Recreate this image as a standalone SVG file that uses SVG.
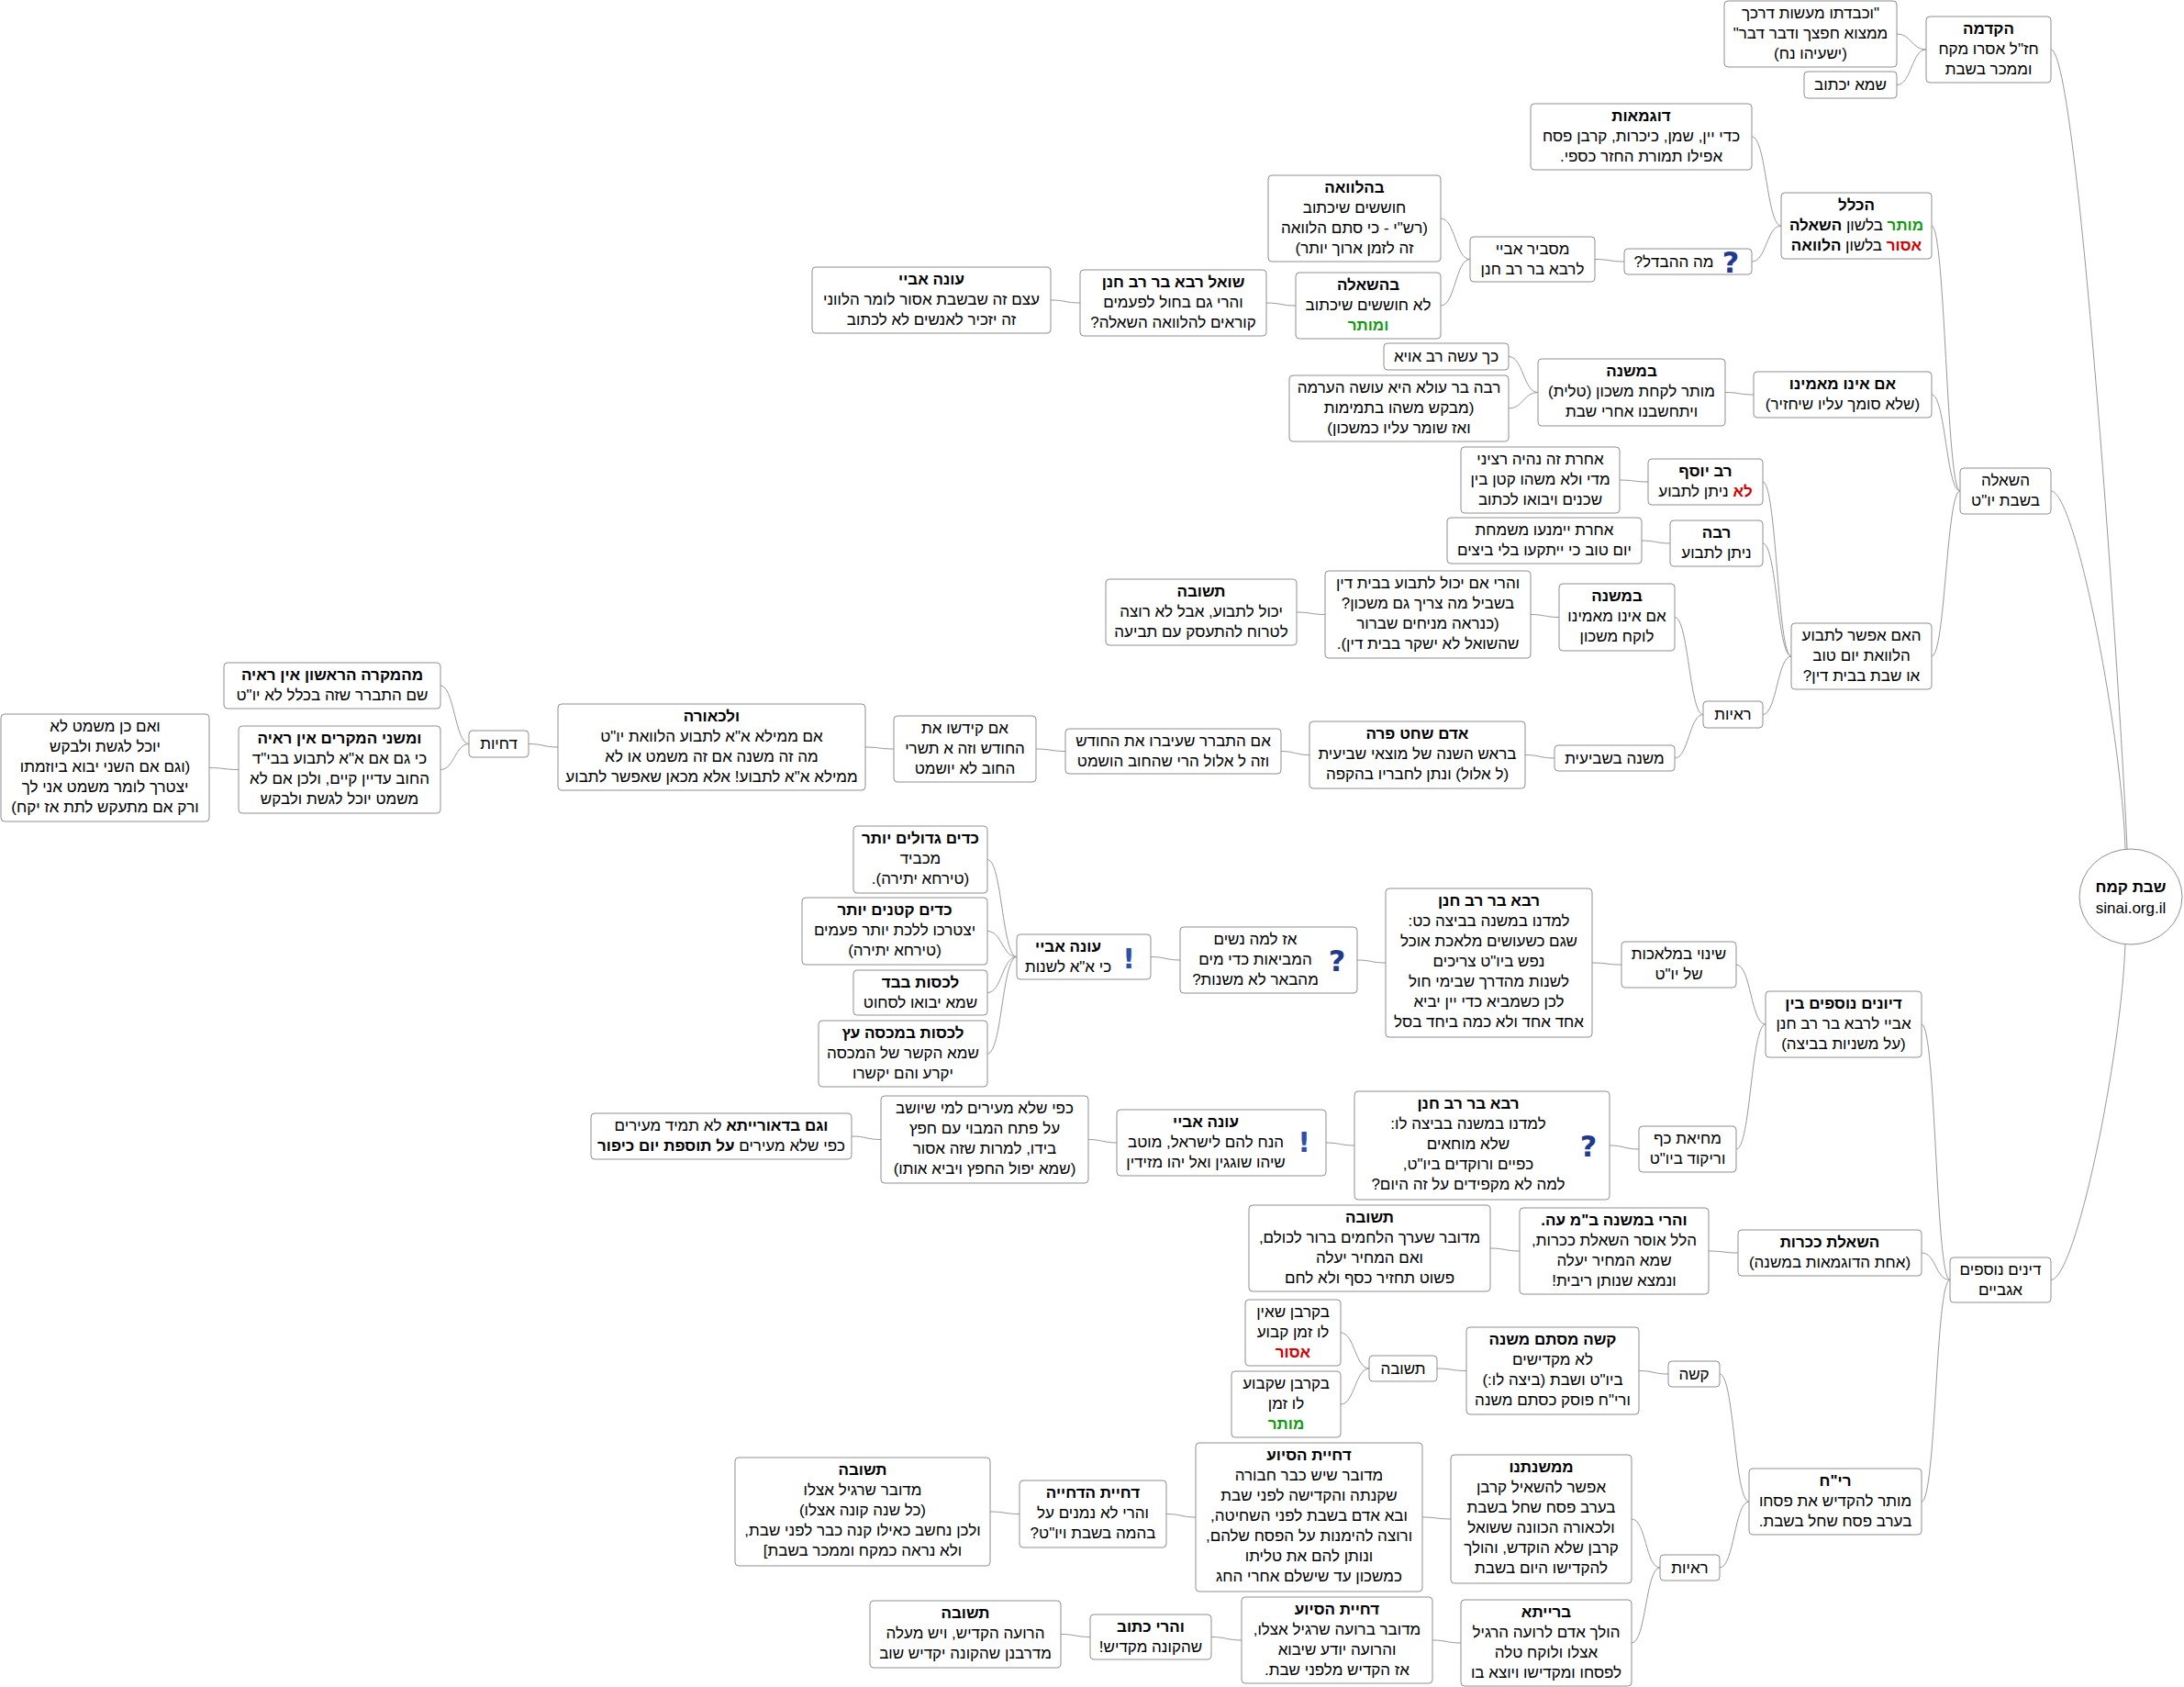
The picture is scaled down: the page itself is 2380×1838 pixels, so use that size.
<svg xmlns="http://www.w3.org/2000/svg" width="2380" height="1838" viewBox="0 0 2380 1838">
<style>
.n rect{fill:#fff;stroke:#8f8f8f;stroke-width:1}
.n ellipse{fill:#fff;stroke:#8f8f8f;stroke-width:1}
text{font-family:"Liberation Sans",Arial,sans-serif;font-size:17px;fill:#000;direction:rtl;text-anchor:middle}
.b{font-weight:bold}
.r{fill:#d40000;font-weight:bold}
.g{fill:#139a13;font-weight:bold}
.q{font-family:"DejaVu Sans",sans-serif;font-size:32px;font-weight:bold;fill:#23398a}
.e{font-family:"DejaVu Sans",sans-serif;font-size:30px;font-weight:bold;fill:#2d4fa8}
#connectors path{fill:none;stroke:#999;stroke-width:1}
</style>
<g id="connectors">
<path d="M2235,54 C2265,54 2312,780 2318,925"/>
<path d="M2235,535 C2262,535 2312,800 2316,925"/>
<path d="M2235,1394.5 C2262,1394.5 2312,1150 2316,1027"/>
<path d="M2067,37 C2083,37 2083,54 2099,54"/>
<path d="M2067,92.5 C2083,92.5 2083,54 2099,54"/>
<path d="M2105,246 C2120,246 2121,535 2136,535"/>
<path d="M2105,430 C2120,430 2121,535 2136,535"/>
<path d="M2105,715 C2120,715 2121,535 2136,535"/>
<path d="M1909,149 C1925,149 1925,246 1941,246"/>
<path d="M1909,285 C1925,285 1925,246 1941,246"/>
<path d="M1738,282.5 C1754,282.5 1754,285 1770,285"/>
<path d="M1570,238 C1586,238 1586,282.5 1602,282.5"/>
<path d="M1570,333 C1586,333 1586,282.5 1602,282.5"/>
<path d="M1380,330 C1396,330 1396,333 1412,333"/>
<path d="M1145,327 C1161,327 1161,330 1177,330"/>
<path d="M1880,427.5 C1895,427.5 1896,430 1911,430"/>
<path d="M1644,388.5 C1660,388.5 1660,427.5 1676,427.5"/>
<path d="M1644,445 C1660,445 1660,427.5 1676,427.5"/>
<path d="M1921,525 C1936,525 1937,715 1952,715"/>
<path d="M1921,592 C1936,592 1937,715 1952,715"/>
<path d="M1921,778.5 C1936,778.5 1937,715 1952,715"/>
<path d="M1765,523 C1780,523 1781,525 1796,525"/>
<path d="M1789,589 C1804,589 1805,592 1820,592"/>
<path d="M1825,672.5 C1840,672.5 1841,778.5 1856,778.5"/>
<path d="M1825,826 C1840,826 1841,778.5 1856,778.5"/>
<path d="M1668,669.5 C1683,669.5 1684,672.5 1699,672.5"/>
<path d="M1413,667 C1428,667 1429,669.5 1444,669.5"/>
<path d="M1662,822.5 C1678,822.5 1678,826 1694,826"/>
<path d="M1396,818.5 C1411,818.5 1412,822.5 1427,822.5"/>
<path d="M1129,816 C1145,816 1145,818.5 1161,818.5"/>
<path d="M943,814 C958,814 959,816 974,816"/>
<path d="M576,810.5 C592,810.5 592,814 608,814"/>
<path d="M480,747 C495,747 496,810.5 511,810.5"/>
<path d="M480,838.5 C495,838.5 496,810.5 511,810.5"/>
<path d="M228,836.5 C244,836.5 244,838.5 260,838.5"/>
<path d="M2094,1116 C2110,1116 2109,1394.5 2125,1394.5"/>
<path d="M2094,1365 C2110,1365 2109,1394.5 2125,1394.5"/>
<path d="M2094,1636 C2110,1636 2109,1394.5 2125,1394.5"/>
<path d="M1892,1051 C1908,1051 1908,1116 1924,1116"/>
<path d="M1892,1252 C1908,1252 1908,1116 1924,1116"/>
<path d="M1735,1049 C1751,1049 1751,1051 1767,1051"/>
<path d="M1479,1046 C1495,1046 1494,1049 1510,1049"/>
<path d="M1254,1042.5 C1270,1042.5 1270,1046 1286,1046"/>
<path d="M1076,936.5 C1092,936.5 1092,1042.5 1108,1042.5"/>
<path d="M1076,1014.5 C1092,1014.5 1092,1042.5 1108,1042.5"/>
<path d="M1076,1081.5 C1092,1081.5 1092,1042.5 1108,1042.5"/>
<path d="M1076,1148 C1092,1148 1092,1042.5 1108,1042.5"/>
<path d="M1754,1248 C1770,1248 1770,1252 1786,1252"/>
<path d="M1445,1245 C1460,1245 1461,1248 1476,1248"/>
<path d="M1186,1241.5 C1201,1241.5 1202,1245 1217,1245"/>
<path d="M928,1238 C944,1238 944,1241.5 960,1241.5"/>
<path d="M1862,1363 C1878,1363 1878,1365 1894,1365"/>
<path d="M1624,1360 C1640,1360 1640,1363 1656,1363"/>
<path d="M1874,1497 C1890,1497 1890,1636 1906,1636"/>
<path d="M1874,1708 C1890,1708 1890,1636 1906,1636"/>
<path d="M1786,1493.5 C1802,1493.5 1802,1497 1818,1497"/>
<path d="M1566,1491 C1582,1491 1582,1493.5 1598,1493.5"/>
<path d="M1461,1452 C1476,1452 1477,1491 1492,1491"/>
<path d="M1461,1530 C1476,1530 1477,1491 1492,1491"/>
<path d="M1778,1655 C1794,1655 1793,1708 1809,1708"/>
<path d="M1778,1790 C1794,1790 1793,1708 1809,1708"/>
<path d="M1550,1653 C1566,1653 1565,1655 1581,1655"/>
<path d="M1271,1649.5 C1287,1649.5 1287,1653 1303,1653"/>
<path d="M1079,1647 C1095,1647 1095,1649.5 1111,1649.5"/>
<path d="M1561,1787 C1577,1787 1576,1790 1592,1790"/>
<path d="M1320,1783.5 C1336,1783.5 1337,1787 1353,1787"/>
<path d="M1156,1780.5 C1172,1780.5 1172,1783.5 1188,1783.5"/>
</g>

<g id="root" class="n"><ellipse cx="2322" cy="977" rx="56" ry="52"/><text class="b" x="2322" y="972">שבת קמח</text><text x="2322" y="995" style="direction:ltr">sinai.org.il</text></g>

<g id="n_hakdama" class="n"><rect x="2099" y="18" width="136" height="72" rx="4"/><text class="b" x="2167" y="37">הקדמה</text><text x="2167" y="59">חז"ל אסרו מקח</text><text x="2167" y="81">וממכר בשבת</text></g>
<g id="n_quote" class="n"><rect x="1879" y="1" width="188" height="72" rx="4"/><text x="1973" y="20">"וכבדתו מעשות דרכך</text><text x="1973" y="42">ממצוא חפצך ודבר דבר"</text><text x="1973" y="64">(ישעיהו נח)</text></g>
<g id="n_shema" class="n"><rect x="1966" y="78" width="101" height="29" rx="4"/><text x="2016.5" y="98">שמא יכתוב</text></g>
<g id="n_hashala" class="n"><rect x="2136" y="510" width="99" height="50" rx="4"/><text x="2185.5" y="529">השאלה</text><text x="2185.5" y="551">בשבת יו"ט</text></g>
<g id="n_haklal" class="n"><rect x="1941" y="210" width="164" height="72" rx="4"/><text class="b" x="2023" y="229">הכלל</text><text x="2023" y="251"><tspan class="g">מותר</tspan> בלשון <tspan class="b">השאלה</tspan></text><text x="2023" y="273"><tspan class="r">אסור</tspan> בלשון <tspan class="b">הלוואה</tspan></text></g>
<g id="n_dugmaot" class="n"><rect x="1668" y="113" width="241" height="72" rx="4"/><text class="b" x="1788.5" y="132">דוגמאות</text><text x="1788.5" y="154">כדי יין, שמן, כיכרות, קרבן פסח</text><text x="1788.5" y="176">אפילו תמורת החזר כספי.</text></g>
<g id="n_mahahevdel" class="n"><rect x="1770" y="271" width="139" height="28" rx="4"/><text x="1824" y="291">מה ההבדל?</text><text class="q" x="1886" y="297">?</text></g>
<g id="n_masbir" class="n"><rect x="1602" y="258" width="136" height="49" rx="4"/><text x="1670" y="277">מסביר אביי</text><text x="1670" y="299">לרבא בר רב חנן</text></g>
<g id="n_behalvaa" class="n"><rect x="1382" y="191" width="188" height="94" rx="4"/><text class="b" x="1476" y="210">בהלוואה</text><text x="1476" y="232">חוששים שיכתוב</text><text x="1476" y="254">(רש"י - כי סתם הלוואה</text><text x="1476" y="276">זה לזמן ארוך יותר)</text></g>
<g id="n_behashala" class="n"><rect x="1412" y="297" width="158" height="72" rx="4"/><text class="b" x="1491" y="316">בהשאלה</text><text x="1491" y="338">לא חוששים שיכתוב</text><text class="g" x="1491" y="360">ומותר</text></g>
<g id="n_shoel" class="n"><rect x="1177" y="294" width="203" height="72" rx="4"/><text class="b" x="1278.5" y="313">שואל רבא בר רב חנן</text><text x="1278.5" y="335">והרי גם בחול לפעמים</text><text x="1278.5" y="357">קוראים להלוואה השאלה?</text></g>
<g id="n_one1" class="n"><rect x="885" y="291" width="260" height="72" rx="4"/><text class="b" x="1015" y="310">עונה אביי</text><text x="1015" y="332">עצם זה שבשבת אסור לומר הלווני</text><text x="1015" y="354">זה יזכיר לאנשים לא לכתוב</text></g>
<g id="n_eino" class="n"><rect x="1911" y="405" width="194" height="50" rx="4"/><text class="b" x="2008" y="424">אם אינו מאמינו</text><text x="2008" y="446">(שלא סומך עליו שיחזיר)</text></g>
<g id="n_mishna1" class="n"><rect x="1676" y="391" width="204" height="73" rx="4"/><text class="b" x="1778" y="410">במשנה</text><text x="1778" y="432">מותר לקחת משכון (טלית)</text><text x="1778" y="454">ויתחשבנו אחרי שבת</text></g>
<g id="n_kach" class="n"><rect x="1508" y="374" width="136" height="29" rx="4"/><text x="1576" y="394">כך עשה רב אויא</text></g>
<g id="n_rabba_ula" class="n"><rect x="1405" y="409" width="239" height="72" rx="4"/><text x="1524.5" y="428">רבה בר עולא היא עושה הערמה</text><text x="1524.5" y="450">(מבקש משהו בתמימות</text><text x="1524.5" y="472">ואז שומר עליו כמשכון)</text></g>
<g id="n_haim" class="n"><rect x="1952" y="679" width="153" height="72" rx="4"/><text x="2028.5" y="698">האם אפשר לתבוע</text><text x="2028.5" y="720">הלוואת יום טוב</text><text x="2028.5" y="742">או שבת בבית דין?</text></g>
<g id="n_ravyosef" class="n"><rect x="1796" y="500" width="125" height="50" rx="4"/><text class="b" x="1858.5" y="519">רב יוסף</text><text x="1858.5" y="541"><tspan class="r">לא</tspan> ניתן לתבוע</text></g>
<g id="n_acheret1" class="n"><rect x="1592" y="487" width="173" height="72" rx="4"/><text x="1678.5" y="506">אחרת זה נהיה רציני</text><text x="1678.5" y="528">מדי ולא משהו קטן בין</text><text x="1678.5" y="550">שכנים ויבואו לכתוב</text></g>
<g id="n_rabba" class="n"><rect x="1820" y="567" width="101" height="50" rx="4"/><text class="b" x="1870.5" y="586">רבה</text><text x="1870.5" y="608">ניתן לתבוע</text></g>
<g id="n_acheret2" class="n"><rect x="1577" y="564" width="212" height="50" rx="4"/><text x="1683" y="583">אחרת יימנעו משמחת</text><text x="1683" y="605">יום טוב כי ייתקעו בלי ביצים</text></g>
<g id="n_reayot1" class="n"><rect x="1856" y="764" width="65" height="29" rx="4"/><text x="1888.5" y="784">ראיות</text></g>
<g id="n_mishna2" class="n"><rect x="1699" y="636" width="126" height="73" rx="4"/><text class="b" x="1762" y="655">במשנה</text><text x="1762" y="677">אם אינו מאמינו</text><text x="1762" y="699">לוקח משכון</text></g>
<g id="n_vaharei" class="n"><rect x="1444" y="622" width="224" height="95" rx="4"/><text x="1556" y="641">והרי אם יכול לתבוע בבית דין</text><text x="1556" y="663">בשביל מה צריך גם משכון?</text><text x="1556" y="685">(כנראה מניחים שברור</text><text x="1556" y="707">שהשואל לא ישקר בבית דין).</text></g>
<g id="n_teshuva1" class="n"><rect x="1205" y="631" width="208" height="72" rx="4"/><text class="b" x="1309" y="650">תשובה</text><text x="1309" y="672">יכול לתבוע, אבל לא רוצה</text><text x="1309" y="694">לטרוח להתעסק עם תביעה</text></g>
<g id="n_shviit" class="n"><rect x="1694" y="812" width="131" height="28" rx="4"/><text x="1759.5" y="832">משנה בשביעית</text></g>
<g id="n_adam" class="n"><rect x="1427" y="786" width="235" height="73" rx="4"/><text class="b" x="1544.5" y="805">אדם שחט פרה</text><text x="1544.5" y="827">בראש השנה של מוצאי שביעית</text><text x="1544.5" y="849">(ל אלול) ונתן לחבריו בהקפה</text></g>
<g id="n_im_hitbarer" class="n"><rect x="1161" y="794" width="235" height="49" rx="4"/><text x="1278.5" y="813">אם התברר שעיברו את החודש</text><text x="1278.5" y="835">וזה ל אלול הרי שהחוב הושמט</text></g>
<g id="n_im_kidshu" class="n"><rect x="974" y="780" width="155" height="72" rx="4"/><text x="1051.5" y="799">אם קידשו את</text><text x="1051.5" y="821">החודש וזה א תשרי</text><text x="1051.5" y="843">החוב לא יושמט</text></g>
<g id="n_lechora" class="n"><rect x="608" y="767" width="335" height="94" rx="4"/><text class="b" x="775.5" y="786">ולכאורה</text><text x="775.5" y="808">אם ממילא א"א לתבוע הלוואת יו"ט</text><text x="775.5" y="830">מה זה משנה אם זה משמט או לא</text><text x="775.5" y="852">ממילא א"א לתבוע! אלא מכאן שאפשר לתבוע</text></g>
<g id="n_dchiyot" class="n"><rect x="511" y="796" width="65" height="29" rx="4"/><text x="543.5" y="816">דחיות</text></g>
<g id="n_mikre1" class="n"><rect x="244" y="722" width="236" height="50" rx="4"/><text class="b" x="362" y="741">מהמקרה הראשון אין ראיה</text><text x="362" y="763">שם התברר שזה בכלל לא יו"ט</text></g>
<g id="n_mishnei" class="n"><rect x="260" y="791" width="220" height="95" rx="4"/><text class="b" x="370" y="810">ומשני המקרים אין ראיה</text><text x="370" y="832">כי גם אם א"א לתבוע בבי"ד</text><text x="370" y="854">החוב עדיין קיים, ולכן אם לא</text><text x="370" y="876">משמט יוכל לגשת ולבקש</text></g>
<g id="n_veim" class="n"><rect x="1" y="778" width="227" height="117" rx="4"/><text x="114.5" y="797">ואם כן משמט לא</text><text x="114.5" y="819">יוכל לגשת ולבקש</text><text x="114.5" y="841">(וגם אם השני יבוא ביוזמתו</text><text x="114.5" y="863">יצטרך לומר משמט אני לך</text><text x="114.5" y="885">ורק אם מתעקש לתת אז יקח)</text></g>

<g id="n_dinim" class="n"><rect x="2125" y="1370" width="110" height="49" rx="4"/><text x="2180" y="1389">דינים נוספים</text><text x="2180" y="1411">אגביים</text></g>
<g id="n_diyunim" class="n"><rect x="1924" y="1080" width="170" height="72" rx="4"/><text class="b" x="2009" y="1099">דיונים נוספים בין</text><text x="2009" y="1121">אביי לרבא בר רב חנן</text><text x="2009" y="1143">(על משניות בביצה)</text></g>
<g id="n_shinui" class="n"><rect x="1767" y="1026" width="125" height="50" rx="4"/><text x="1829.5" y="1045">שינוי במלאכות</text><text x="1829.5" y="1067">של יו"ט</text></g>
<g id="n_rava1" class="n"><rect x="1510" y="968" width="225" height="162" rx="4"/><text class="b" x="1622.5" y="987">רבא בר רב חנן</text><text x="1622.5" y="1009">למדנו במשנה בביצה כט:</text><text x="1622.5" y="1031">שגם כשעושים מלאכת אוכל</text><text x="1622.5" y="1053">נפש ביו"ט  צריכים</text><text x="1622.5" y="1075">לשנות מהדרך שבימי חול</text><text x="1622.5" y="1097">לכן כשמביא כדי יין יביא</text><text x="1622.5" y="1119">אחד אחד ולא כמה ביחד בסל</text></g>
<g id="n_az" class="n"><rect x="1286" y="1010" width="193" height="72" rx="4"/><text x="1368" y="1029">אז למה נשים</text><text x="1368" y="1051">המביאות כדי מים</text><text x="1368" y="1073">מהבאר לא משנות?</text><text class="q" x="1457" y="1058">?</text></g>
<g id="n_one2" class="n"><rect x="1108" y="1018" width="146" height="49" rx="4"/><text class="b" x="1164" y="1037">עונה אביי</text><text x="1164" y="1059">כי א"א לשנות</text><text class="e" x="1230" y="1055">!</text></g>
<g id="n_kadim_g" class="n"><rect x="930" y="900" width="146" height="73" rx="4"/><text class="b" x="1003" y="919">כדים גדולים יותר</text><text x="1003" y="941">מכביד</text><text x="1003" y="963">(טירחא יתירה).</text></g>
<g id="n_kadim_k" class="n"><rect x="874" y="978" width="202" height="73" rx="4"/><text class="b" x="975" y="997">כדים קטנים יותר</text><text x="975" y="1019">יצטרכו ללכת יותר פעמים</text><text x="975" y="1041">(טירחא יתירה)</text></g>
<g id="n_beved" class="n"><rect x="930" y="1057" width="146" height="49" rx="4"/><text class="b" x="1003" y="1076">לכסות בבד</text><text x="1003" y="1098">שמא יבואו לסחוט</text></g>
<g id="n_michse" class="n"><rect x="892" y="1112" width="184" height="72" rx="4"/><text class="b" x="984" y="1131">לכסות במכסה עץ</text><text x="984" y="1153">שמא הקשר של המכסה</text><text x="984" y="1175">יקרע והם יקשרו</text></g>
<g id="n_mechiat" class="n"><rect x="1786" y="1227" width="106" height="50" rx="4"/><text x="1839" y="1246">מחיאת כף</text><text x="1839" y="1268">וריקוד ביו"ט</text></g>
<g id="n_rava2" class="n"><rect x="1476" y="1189" width="278" height="118" rx="4"/><text class="b" x="1600" y="1208">רבא בר רב חנן</text><text x="1600" y="1230">למדנו במשנה בביצה לו:</text><text x="1600" y="1252">שלא מוחאים</text><text x="1600" y="1274">כפיים ורוקדים ביו"ט,</text><text x="1600" y="1296">למה לא מקפידים על זה היום?</text><text class="q" x="1731" y="1260">?</text></g>
<g id="n_one3" class="n"><rect x="1217" y="1209" width="228" height="72" rx="4"/><text class="b" x="1314" y="1228">עונה אביי</text><text x="1314" y="1250">הנח להם לישראל, מוטב</text><text x="1314" y="1272">שיהו שוגגין ואל יהו מזידין</text><text class="e" x="1421" y="1255">!</text></g>
<g id="n_kfi" class="n"><rect x="960" y="1194" width="226" height="95" rx="4"/><text x="1073" y="1213">כפי שלא מעירים למי שיושב</text><text x="1073" y="1235">על פתח המבוי עם חפץ</text><text x="1073" y="1257">בידו, למרות שזה אסור</text><text x="1073" y="1279">(שמא יפול החפץ ויביא אותו)</text></g>
<g id="n_vegam" class="n"><rect x="644" y="1213" width="284" height="50" rx="4"/><text x="786" y="1232"><tspan class="b">וגם בדאורייתא</tspan>  לא תמיד מעירים</text><text x="786" y="1254">כפי שלא מעירים <tspan class="b">על תוספת יום כיפור</tspan></text></g>
<g id="n_kikarot" class="n"><rect x="1894" y="1340" width="200" height="50" rx="4"/><text class="b" x="1994" y="1359">השאלת ככרות</text><text x="1994" y="1381">(אחת הדוגמאות במשנה)</text></g>
<g id="n_vaharei2" class="n"><rect x="1656" y="1316" width="206" height="94" rx="4"/><text class="b" x="1759" y="1335">והרי במשנה ב"מ עה.</text><text x="1759" y="1357">הלל אוסר השאלת ככרות,</text><text x="1759" y="1379">שמא המחיר יעלה</text><text x="1759" y="1401">ונמצא שנותן ריבית!</text></g>
<g id="n_teshuva2" class="n"><rect x="1361" y="1313" width="263" height="94" rx="4"/><text class="b" x="1492.5" y="1332">תשובה</text><text x="1492.5" y="1354">מדובר שערך הלחמים ברור לכולם,</text><text x="1492.5" y="1376">ואם המחיר יעלה</text><text x="1492.5" y="1398">פשוט תחזיר כסף ולא לחם</text></g>
<g id="n_rich" class="n"><rect x="1906" y="1600" width="188" height="72" rx="4"/><text class="b" x="2000" y="1619">רי"ח</text><text x="2000" y="1641">מותר להקדיש את פסחו</text><text x="2000" y="1663">בערב פסח שחל בשבת.</text></g>
<g id="n_kashe" class="n"><rect x="1818" y="1483" width="56" height="28" rx="4"/><text x="1846" y="1503">קשה</text></g>
<g id="n_kashe_stam" class="n"><rect x="1598" y="1446" width="188" height="95" rx="4"/><text class="b" x="1692" y="1465">קשה מסתם משנה</text><text x="1692" y="1487">לא מקדישים</text><text x="1692" y="1509">ביו"ט ושבת (ביצה לו:)</text><text x="1692" y="1531">ורי"ח פוסק כסתם משנה</text></g>
<g id="n_teshuva3" class="n"><rect x="1492" y="1477" width="74" height="28" rx="4"/><text x="1529" y="1497">תשובה</text></g>
<g id="n_korban1" class="n"><rect x="1357" y="1416" width="104" height="72" rx="4"/><text x="1409" y="1435">בקרבן שאין</text><text x="1409" y="1457">לו זמן קבוע</text><text class="r" x="1409" y="1479">אסור</text></g>
<g id="n_korban2" class="n"><rect x="1342" y="1494" width="119" height="72" rx="4"/><text x="1401.5" y="1513">בקרבן שקבוע</text><text x="1401.5" y="1535">לו זמן</text><text class="g" x="1401.5" y="1557">מותר</text></g>
<g id="n_reayot2" class="n"><rect x="1809" y="1694" width="65" height="28" rx="4"/><text x="1841.5" y="1714">ראיות</text></g>
<g id="n_mimishnatenu" class="n"><rect x="1581" y="1585" width="197" height="140" rx="4"/><text class="b" x="1679.5" y="1604">ממשנתנו</text><text x="1679.5" y="1626">אפשר להשאיל קרבן</text><text x="1679.5" y="1648">בערב פסח שחל בשבת</text><text x="1679.5" y="1670">ולכאורה הכוונה ששואל</text><text x="1679.5" y="1692">קרבן שלא הוקדש, והולך</text><text x="1679.5" y="1714">להקדישו היום בשבת</text></g>
<g id="n_dchiya1" class="n"><rect x="1303" y="1572" width="247" height="162" rx="4"/><text class="b" x="1426.5" y="1591">דחיית הסיוע</text><text x="1426.5" y="1613">מדובר שיש כבר חבורה</text><text x="1426.5" y="1635">שקנתה והקדישה לפני שבת</text><text x="1426.5" y="1657">ובא אדם בשבת לפני השחיטה,</text><text x="1426.5" y="1679">ורוצה להימנות על הפסח שלהם,</text><text x="1426.5" y="1701">ונותן להם את טליתו</text><text x="1426.5" y="1723">כמשכון עד שישלם אחרי החג</text></g>
<g id="n_dchiyat_hadchiya" class="n"><rect x="1111" y="1613" width="160" height="73" rx="4"/><text class="b" x="1191" y="1632">דחיית הדחייה</text><text x="1191" y="1654">והרי לא נמנים על</text><text x="1191" y="1676">בהמה בשבת ויו"ט?</text></g>
<g id="n_teshuva4" class="n"><rect x="801" y="1588" width="278" height="118" rx="4"/><text class="b" x="940" y="1607">תשובה</text><text x="940" y="1629">מדובר שרגיל אצלו</text><text x="940" y="1651">(כל שנה קונה אצלו)</text><text x="940" y="1673">ולכן נחשב כאילו קנה כבר לפני שבת,</text><text x="940" y="1695">ולא נראה כמקח וממכר בשבת]</text></g>
<g id="n_braita" class="n"><rect x="1592" y="1743" width="186" height="94" rx="4"/><text class="b" x="1685" y="1762">ברייתא</text><text x="1685" y="1784">הולך אדם לרועה הרגיל</text><text x="1685" y="1806">אצלו ולוקח טלה</text><text x="1685" y="1828">לפסחו ומקדישו ויוצא בו</text></g>
<g id="n_dchiya2" class="n"><rect x="1353" y="1740" width="208" height="94" rx="4"/><text class="b" x="1457" y="1759">דחיית הסיוע</text><text x="1457" y="1781">מדובר ברועה שרגיל אצלו,</text><text x="1457" y="1803">והרועה יודע שיבוא</text><text x="1457" y="1825">אז הקדיש מלפני שבת.</text></g>
<g id="n_vaharei_katuv" class="n"><rect x="1188" y="1759" width="132" height="49" rx="4"/><text class="b" x="1254" y="1778">והרי כתוב</text><text x="1254" y="1800">שהקונה מקדיש!</text></g>
<g id="n_teshuva5" class="n"><rect x="948" y="1744" width="208" height="73" rx="4"/><text class="b" x="1052" y="1763">תשובה</text><text x="1052" y="1785">הרועה הקדיש, ויש מעלה</text><text x="1052" y="1807">מדרבנן שהקונה יקדיש שוב</text></g>
</svg>
